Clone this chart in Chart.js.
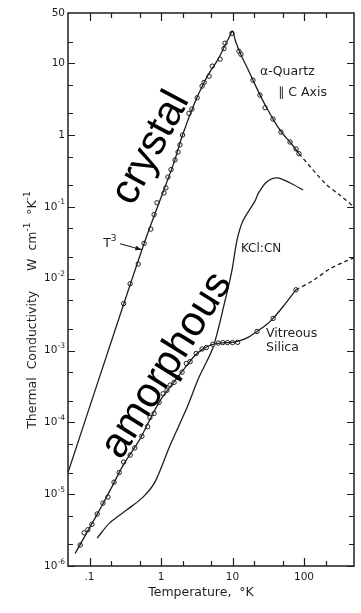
<!DOCTYPE html>
<html>
<head>
<meta charset="utf-8">
<script src="https://cdn.jsdelivr.net/npm/chart.js@4.4.1/dist/chart.umd.min.js"></script>
<style>
  html, body { margin: 0; padding: 0; background: #fff; }
  #c { display: block; }
</style>
</head>
<body>
<canvas id="c" width="361" height="613"></canvas>
<script>
// ---- α-quartz (parallel to c axis): measured points ----
const quartzT = [0.30, 0.37, 0.48, 0.58, 0.72, 0.80, 0.88, 1.10, 1.17, 1.25, 1.38, 1.57, 1.73, 1.84, 2.0, 2.46, 2.7, 3.2, 3.75, 4.0, 4.7, 5.2, 6.7, 7.6, 7.85, 9.8, 12.3, 13.1, 19.3, 24.2, 28.5, 36.8, 47.6, 63.7, 77.4, 85];
const quartzK = [4.5e-3, 8.5e-3, 0.016, 0.031, 0.049, 0.078, 0.114, 0.156, 0.184, 0.26, 0.33, 0.45, 0.58, 0.73, 1.0, 2.0, 2.3, 3.3, 4.8, 5.4, 6.6, 9.1, 11.4, 16, 19, 26, 14.7, 13.3, 5.8, 3.6, 2.4, 1.67, 1.1, 0.80, 0.64, 0.55];
// α-quartz: drawn curve (solid) and its high-temperature extension (dashed)
const quartzCurveT = [0.05, 0.3, 0.6, 1, 1.5, 2, 3, 4, 5, 6, 7, 8, 9, 10, 11, 13, 16, 20, 25, 30, 40, 50, 65, 85];
const quartzCurveK = [2.0e-5, 4.4e-3, 0.034, 0.135, 0.40, 1.0, 2.9, 5.4, 8.0, 10.5, 14, 18.5, 23, 28, 20.4, 13.3, 8.7, 5.4, 3.4, 2.4, 1.45, 1.05, 0.78, 0.55];
const quartzExtT = [85, 200, 318, 500];
const quartzExtK = [0.55, 0.21, 0.145, 0.1];

// ---- vitreous silica: measured points ----
const silicaT = [0.074, 0.084, 0.095, 0.108, 0.128, 0.154, 0.181, 0.22, 0.26, 0.30, 0.37, 0.43, 0.54, 0.65, 0.70, 0.80, 0.94, 1.07, 1.21, 1.34, 1.52, 1.73, 1.97, 2.26, 2.55, 3.1, 3.75, 4.3, 5.3, 6.3, 7.3, 8.5, 10, 11.8, 22, 37, 77];
const silicaK = [1.96e-6, 2.9e-6, 3.2e-6, 3.8e-6, 5.3e-6, 7.5e-6, 9.1e-6, 1.47e-5, 2.0e-5, 2.8e-5, 3.5e-5, 4.4e-5, 6.4e-5, 8.7e-5, 1.17e-4, 1.33e-4, 1.9e-4, 2.5e-4, 2.8e-4, 3.3e-4, 3.6e-4, 4.2e-4, 5.0e-4, 6.6e-4, 7.0e-4, 9.1e-4, 1.05e-3, 1.1e-3, 1.22e-3, 1.27e-3, 1.29e-3, 1.29e-3, 1.29e-3, 1.3e-3, 1.84e-3, 2.8e-3, 7.0e-3];
// vitreous silica: drawn curve and dashed extension
const silicaCurveT = [0.063, 0.1, 0.15, 0.2, 0.3, 0.5, 0.7, 1, 1.5, 2, 3, 4, 5, 7, 10, 13, 17, 22, 30, 37, 50, 77];
const silicaCurveK = [1.5e-6, 3.4e-6, 7.0e-6, 1.2e-5, 2.6e-5, 5.7e-5, 1.1e-4, 2.1e-4, 3.6e-4, 5.2e-4, 8.6e-4, 1.07e-3, 1.2e-3, 1.28e-3, 1.3e-3, 1.38e-3, 1.55e-3, 1.84e-3, 2.3e-3, 2.8e-3, 4.0e-3, 7.0e-3];
const silicaExtT = [77, 133, 231, 400, 500];
const silicaExtK = [7.0e-3, 9.4e-3, 0.0138, 0.0178, 0.0195];

// ---- KCl:CN curve ----
const kclT = [0.128, 0.19, 0.33, 0.56, 0.82, 1.34, 2.31, 3.38, 5.33, 7.85, 9.8, 11.5, 14, 20.6, 23, 30, 42, 64, 97];
const kclK = [2.45e-6, 3.95e-6, 6.0e-6, 9.1e-6, 1.47e-5, 4.8e-5, 1.61e-4, 4.2e-4, 1.1e-3, 4.9e-3, 0.0129, 0.0337, 0.064, 0.12, 0.155, 0.222, 0.253, 0.215, 0.172];

// ---- axes ----
const xRange = [0.05, 500];
const yRange = [1e-6, 50];
const xTickValues = [0.1, 1, 10, 100];
const xTickLabels = ['.1', '1', '10', '100'];
const yTickValues = [1e-6, 1e-5, 1e-4, 1e-3, 1e-2, 1e-1, 1, 10, 50];
const yTickLabels = ['10^-6', '10^-5', '10^-4', '10^-3', '10^-2', '10^-1', '1', '10', '50'];
const xTitle = 'Temperature,  °K';
const yTitle = 'Thermal  Conductivity     W  cm^-1  °K^-1';

const INK = '#1e1e1e';
const LABEL_FONT = "'DejaVu Sans', sans-serif";
const BIG_FONT = "'Liberation Sans', Arial, sans-serif";

const pts = (xs, ys) => xs.map((x, i) => ({ x: x, y: ys[i] }));

function curve(xs, ys, dashed) {
  return {
    data: pts(xs, ys), showLine: true, pointRadius: 0, borderColor: INK,
    borderWidth: 1.3, tension: 0.3, borderDash: dashed ? [4, 3] : [], fill: false
  };
}
function markers(xs, ys) {
  return {
    data: pts(xs, ys), showLine: false, pointRadius: 2.2, pointBorderWidth: 1,
    pointBorderColor: INK, pointBackgroundColor: '#fff', pointStyle: 'circle'
  };
}

// split "abc^-1 def" into normal and superscript runs
function richParts(str) {
  return str.split(/(\^\S+)/).filter(s => s.length).map(s =>
    s[0] === '^' ? { t: s.slice(1), sup: true } : { t: s, sup: false });
}
function drawRich(ctx, str, x, y, size, align) {
  const parts = richParts(str);
  const supSize = size * 0.72;
  let w = 0;
  parts.forEach(p => {
    ctx.font = (p.sup ? supSize : size) + 'px ' + LABEL_FONT;
    p.w = ctx.measureText(p.t).width;
    w += p.w;
  });
  let cx = align === 'right' ? x - w : align === 'center' ? x - w / 2 : x;
  ctx.textAlign = 'left';
  ctx.textBaseline = 'middle';
  parts.forEach(p => {
    ctx.font = (p.sup ? supSize : size) + 'px ' + LABEL_FONT;
    ctx.fillText(p.t, cx, p.sup ? y - size * 0.42 : y);
    cx += p.w;
  });
}

// minor tick values (2 and 5 of every decade) inside a range
function minorTicks(min, max) {
  const out = [];
  for (let e = Math.floor(Math.log10(min)); e <= Math.ceil(Math.log10(max)); e++) {
    [2, 5].forEach(m => {
      const v = m * Math.pow(10, e);
      if (v > min * 1.001 && v < max * 0.999) out.push(v);
    });
  }
  return out;
}

const framePlugin = {
  id: 'frame',
  afterDatasetsDraw(chart) {
    const { ctx, chartArea: a, scales } = chart;
    const xs = scales.x, ys = scales.y;
    ctx.save();
    ctx.strokeStyle = INK;
    ctx.fillStyle = INK;

    // frame
    ctx.lineWidth = 1.5;
    ctx.strokeRect(a.left, a.top, a.right - a.left, a.bottom - a.top);

    // inward ticks
    ctx.lineWidth = 1.2;
    const tickX = (v, len) => {
      const px = Math.round(xs.getPixelForValue(v)) + 0.5;
      ctx.beginPath();
      ctx.moveTo(px, a.bottom); ctx.lineTo(px, a.bottom - len);
      ctx.moveTo(px, a.top); ctx.lineTo(px, a.top + len);
      ctx.stroke();
    };
    const tickY = (v, len) => {
      const py = Math.round(ys.getPixelForValue(v)) + 0.5;
      ctx.beginPath();
      ctx.moveTo(a.left, py); ctx.lineTo(a.left + len, py);
      ctx.moveTo(a.right, py); ctx.lineTo(a.right - len, py);
      ctx.stroke();
    };
    xTickValues.forEach(v => tickX(v, 8));
    minorTicks(xRange[0], xRange[1]).forEach(v => tickX(v, 5));
    yTickValues.forEach(v => { if (v < yRange[1]) tickY(v, 7); });
    minorTicks(yRange[0], yRange[1]).forEach(v => tickY(v, 5));

    // tick labels
    xTickValues.forEach((v, i) => {
      drawRich(ctx, xTickLabels[i], xs.getPixelForValue(v), a.bottom + 11, 10.5, 'center');
    });
    yTickValues.forEach((v, i) => {
      drawRich(ctx, yTickLabels[i], a.left - 3, ys.getPixelForValue(v), 10.5, 'right');
    });

    // axis titles
    drawRich(ctx, xTitle, 201, 593, 12.5, 'center');
    ctx.save();
    ctx.translate(33, 310);
    ctx.rotate(-Math.PI / 2);
    drawRich(ctx, yTitle, 0, 0, 12.5, 'center');
    ctx.restore();

    // curve labels
    const P = (t, k) => [xs.getPixelForValue(t), ys.getPixelForValue(k)];
    const label = (txt, t, k, size) => {
      const [px, py] = P(t, k);
      drawRich(ctx, txt, px, py, size, 'left');
    };
    label('α-Quartz', 24.2, 7.5, 12.5);
    label('∥ C Axis', 43.3, 3.83, 12.5);
    label('KCl:CN', 13.1, 0.026, 12);
    label('Vitreous', 29.4, 1.72e-3, 12.5);
    label('Silica', 29.4, 1.1e-3, 12.5);

    // T^3 label with arrow onto the quartz curve
    label('T^3', 0.155, 0.0306, 12.5);
    const [ax0, ay0] = P(0.267, 0.0306);
    const [ax1, ay1] = P(0.54, 0.0253);
    ctx.lineWidth = 1.1;
    ctx.beginPath(); ctx.moveTo(ax0, ay0); ctx.lineTo(ax1, ay1); ctx.stroke();
    const ang = Math.atan2(ay1 - ay0, ax1 - ax0);
    ctx.beginPath();
    ctx.moveTo(ax1, ay1);
    ctx.lineTo(ax1 - 7 * Math.cos(ang - 0.35), ay1 - 7 * Math.sin(ang - 0.35));
    ctx.lineTo(ax1 - 7 * Math.cos(ang + 0.35), ay1 - 7 * Math.sin(ang + 0.35));
    ctx.closePath(); ctx.fill();

    // large rotated words
    const big = (txt, t, k, deg) => {
      const [px, py] = P(t, k);
      ctx.save();
      ctx.translate(px, py);
      ctx.rotate(deg * Math.PI / 180);
      ctx.font = '42px ' + BIG_FONT;
      ctx.fillStyle = '#000';
      ctx.textAlign = 'center';
      ctx.textBaseline = 'middle';
      ctx.fillText(txt, 0, 0);
      ctx.restore();
    };
    big('crystal', 0.725, 0.66, -62);
    big('amorphous', 1.21, 6.2e-4, -58);

    ctx.restore();
  }
};

new Chart(document.getElementById('c'), {
  type: 'line',
  data: {
    datasets: [
      curve(quartzCurveT, quartzCurveK, false),
      curve(quartzExtT, quartzExtK, true),
      markers(quartzT, quartzK),
      curve(silicaCurveT, silicaCurveK, false),
      curve(silicaExtT, silicaExtK, true),
      markers(silicaT, silicaK),
      curve(kclT, kclK, false)
    ]
  },
  options: {
    responsive: false,
    animation: false,
    devicePixelRatio: 1,
    layout: { padding: { left: 68, top: 13, right: 7, bottom: 47 } },
    plugins: { legend: { display: false }, tooltip: { enabled: false } },
    scales: {
      x: { type: 'logarithmic', min: xRange[0], max: xRange[1], display: false },
      y: { type: 'logarithmic', min: yRange[0], max: yRange[1], display: false }
    }
  },
  plugins: [framePlugin]
});
</script>
</body>
</html>
